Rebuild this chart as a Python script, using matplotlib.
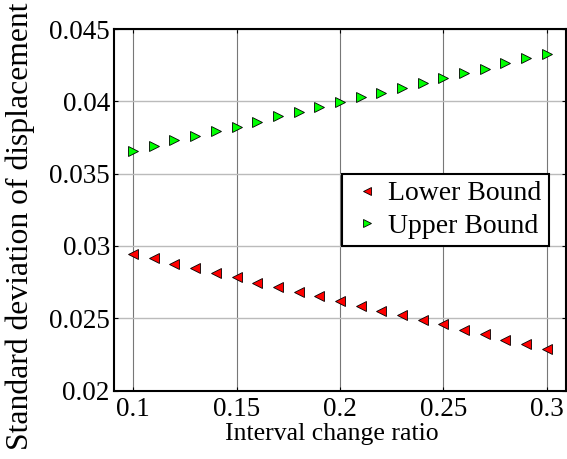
import numpy as np
import matplotlib
matplotlib.use('Agg')
import matplotlib.pyplot as plt

# Data
ratio = [0.10, 0.11, 0.12, 0.13, 0.14, 0.15, 0.16, 0.17, 0.18, 0.19, 0.20,
         0.21, 0.22, 0.23, 0.24, 0.25, 0.26, 0.27, 0.28, 0.29, 0.30]
lower_bound = [0.02942, 0.02914, 0.02877, 0.02850, 0.02812, 0.02783, 0.02746,
               0.02715, 0.02681, 0.02651, 0.02616, 0.02587, 0.02549, 0.02519,
               0.02485, 0.02457, 0.02416, 0.02388, 0.02351, 0.02323, 0.02289]
upper_bound = [0.03655, 0.03692, 0.03729, 0.03761, 0.03794, 0.03823, 0.03858,
               0.03895, 0.03925, 0.03962, 0.03992, 0.04027, 0.04059, 0.04094,
               0.04128, 0.04161, 0.04195, 0.04225, 0.04262, 0.04297, 0.04329]
x_ticks = [0.1, 0.15, 0.2, 0.25, 0.3]
x_labels = ['0.1', '0.15', '0.2', '0.25', '0.3']
y_ticks = [0.02, 0.025, 0.03, 0.035, 0.04, 0.045]
y_labels = ['0.02', '0.025', '0.03', '0.035', '0.04', '0.045']

plt.rcParams['font.family'] = ['Liberation Serif', 'DejaVu Serif']
fs = 19.5

fig = plt.figure(figsize=(5.67, 4.59), dpi=100)
ax = fig.add_axes([0.2011, 0.1492, 0.7969, 0.7876])

ax.plot(ratio, lower_bound, linestyle='none', marker='<', markersize=7,
        markerfacecolor='#ff0000', markeredgecolor='black', markeredgewidth=0.6,
        label='Lower Bound')
ax.plot(ratio, upper_bound, linestyle='none', marker='>', markersize=7,
        markerfacecolor='#00ff00', markeredgecolor='black', markeredgewidth=0.6,
        label='Upper Bound')

ax.set_xlim(0.0908, 0.3092)
ax.set_ylim(0.02, 0.045)
ax.set_xticks(x_ticks)
ax.set_xticklabels(x_labels, fontsize=fs)
ax.set_yticks(y_ticks)
ax.set_yticklabels(y_labels, fontsize=fs)
ax.tick_params(direction='in', length=3, width=0.8, top=True, right=True)
ax.tick_params(axis='x', pad=4.5)
ax.tick_params(axis='y', pad=3)

ax.xaxis.grid(True, color='#777777', linewidth=0.8)
ax.yaxis.grid(True, color='#bbbbbb', linewidth=1.0)
ax.set_axisbelow(True)
for s in ax.spines.values():
    s.set_linewidth(1.5)

ax.set_xlabel('Interval change ratio', fontsize=18.5, labelpad=0)
ax.xaxis.set_label_coords(0.481, -0.09)
ax.set_ylabel('Standard deviation of displacement', fontsize=22.8)
ax.yaxis.set_label_coords(-0.175, 0.4537)

leg = ax.legend(loc='upper left', bbox_to_anchor=(0.504, 0.599), borderaxespad=0,
                fontsize=20, fancybox=False, edgecolor='black', framealpha=1,
                handletextpad=0.1, borderpad=0.25, labelspacing=0.25,
                handlelength=1.33, markerscale=0.85)
leg.get_frame().set_linewidth(1.5)

fig.savefig('out.png', dpi=100)
